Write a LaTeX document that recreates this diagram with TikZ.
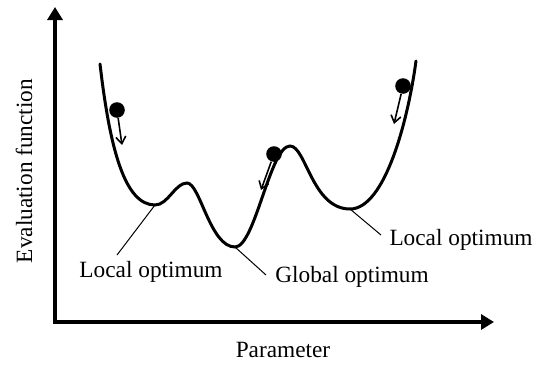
\documentclass[tikz,border=0pt]{standalone}
\usepackage{fontspec}
\setmainfont{Liberation Serif}
\usetikzlibrary{arrows.meta}
\begin{document}
\begin{tikzpicture}[x=0.5pt,y=-0.5pt,
  axisline/.style={line width=2pt,line join=miter,{Triangle[length=6.5pt,width=7.5pt]}-{Triangle[length=6.5pt,width=7.5pt]}},
  curveline/.style={line width=1.5pt,line cap=round},
  ball/.style={circle,fill=black,draw=none,inner sep=0pt,minimum size=7.8pt},
  move/.style={line width=0.8pt,-{Straight Barb[length=3.5pt,width=5pt]}},
  leader/.style={line width=0.5pt},
  lbl/.style={font=\fontsize{11.65}{14}\selectfont,inner sep=0pt,anchor=base}]
\useasboundingbox (0,0) rectangle (544,364);
% axes
\coordinate (ytop) at (55,7);
\coordinate (orig) at (55,322);
\coordinate (xend) at (494,322);
\draw[axisline] (ytop) -- (orig) -- (xend);
% curve
\coordinate (start) at (100,64);
\coordinate (lmin) at (155,205);
\coordinate (p1) at (187,183);
\coordinate (gmin) at (235,247);
\coordinate (p2) at (290,146);
\coordinate (rmin) at (350,209);
\coordinate (finish) at (416,61);
\draw[curveline] (start) .. controls (110,150) and (125,205) .. (lmin)
  .. controls (168,205) and (175,183) .. (p1)
  .. controls (200,183) and (210,247) .. (gmin)
  .. controls (255,247) and (270,146) .. (p2)
  .. controls (306,146) and (312,209) .. (rmin)
  .. controls (385,209) and (408,120) .. (finish);
% balls and arrows
\node[ball] (b1) at (117,110) {};
\node[ball] (b2) at (274,154) {};
\node[ball] (b3) at (403,86) {};
\coordinate (a1) at (122,145);
\coordinate (a2) at (261,190);
\coordinate (a3) at (394,124);
\draw[move] (b1) -- (a1);
\draw[move] (b2) -- (a2);
\draw[move] (b3) -- (a3);
% labels
\node[lbl] (llab) at (151,277) {Local optimum};
\node[lbl] (glab) at (352,282) {Global optimum};
\node[lbl] (rlab) at (461,245) {Local optimum};
\node[lbl] (xlab) at (283,357) {Parameter};
\node[lbl,rotate=90] (ylab) at (32,171) {Evaluation function};
% leaders
\coordinate (le1) at (117,255);
\coordinate (le2) at (266,275);
\coordinate (le3) at (381,235);
\draw[leader] (lmin) -- (le1);
\draw[leader] (gmin) -- (le2);
\draw[leader] (rmin) -- (le3);
\end{tikzpicture}
\end{document}
